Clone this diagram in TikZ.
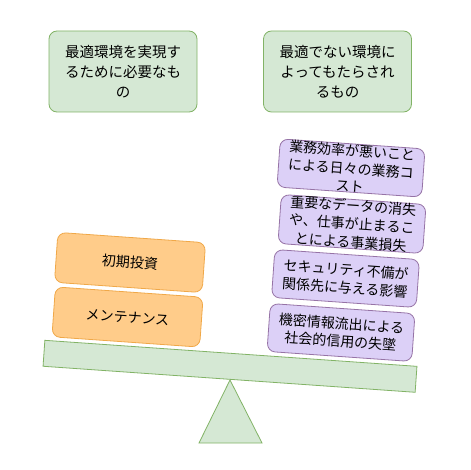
\documentclass[tikz,border=0pt]{standalone}
\usepackage{fontspec}
\setmainfont{Noto Sans CJK JP}
\begin{document}
\begin{tikzpicture}[x=1pt,y=-1pt,
  box/.style={rounded corners=8pt, align=center, inner sep=0pt,
    font=\fontsize{14pt}{18pt}\selectfont, line width=0.8pt},
  greenbox/.style={box, draw=green!45!black!50!olive!60, fill=gfill, minimum width=148pt, minimum height=81pt, font=\fontsize{14.5pt}{20pt}\selectfont},
  orangebox/.style={box, draw=ostroke, fill=ofill, minimum width=148pt, minimum height=50pt, rotate=-4},
  purplebox/.style={box, draw=pstroke, fill=pfill, minimum width=145pt, minimum height=48pt, rotate=-4},
  beam/.style={draw=gstroke, fill=gfill, line width=0.8pt, minimum width=373pt, minimum height=26pt, inner sep=0pt, rotate=-4}
]
\definecolor{gfill}{HTML}{D5E8D4}
\definecolor{gstroke}{HTML}{82B366}
\definecolor{ofill}{HTML}{FFCC8A}
\definecolor{ostroke}{HTML}{F0A848}
\definecolor{pfill}{HTML}{DCD0F7}
\definecolor{pstroke}{HTML}{9673A6}
\useasboundingbox (0,0) rectangle (470,470);
\fill[white] (0,0) rectangle (470,470);

\node[greenbox, draw=gstroke] (g1) at (123,71.5) {最適環境を実現す\\るために必要なも\\の};
\node[greenbox, draw=gstroke] (g2) at (337.5,71.5) {最適でない環境に\\よってもたらされ\\るもの};

\node[orangebox] (o1) at (130,262.5) {初期投資};
\node[orangebox] (o2) at (127.5,317) {メンテナンス};

\node[purplebox] (p1) at (351,168) {業務効率が悪いこと\\による日々の業務コ\\スト};
\node[purplebox] (p2) at (352,224) {重要なデータの消失\\や、仕事が止まるこ\\とによる事業損失};
\node[purplebox] (p3) at (345.5,278.5) {セキュリティ不備が\\関係先に与える影響};
\node[purplebox] (p4) at (341,332.5) {機密情報流出による\\社会的信用の失墜};

\node[beam] (beam) at (230,366.3) {};
\draw[draw=gstroke, fill=gfill, line width=0.8pt] (230,380) -- (262,443) -- (199,443) -- cycle;
\end{tikzpicture}
\end{document}
